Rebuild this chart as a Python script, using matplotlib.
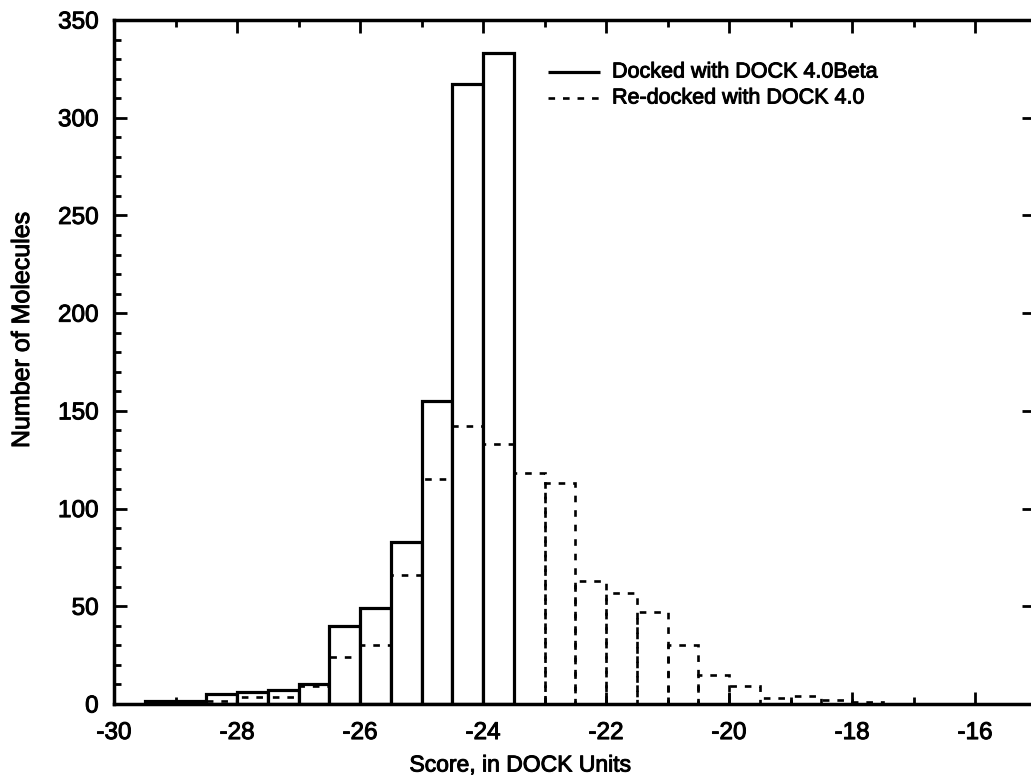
import numpy as np
import matplotlib
matplotlib.use("Agg")
import matplotlib.pyplot as plt
import matplotlib.patheffects as pe
from matplotlib.ticker import MultipleLocator

plt.rcParams['font.family'] = ['Liberation Sans', 'DejaVu Sans']
plt.rcParams['axes.unicode_minus'] = False

# bin left edges, width 0.5
beta_edges = [-29.5, -29.0, -28.5, -28.0, -27.5, -27.0, -26.5, -26.0, -25.5, -25.0, -24.5, -24.0]
beta_counts = [1.5, 1.5, 5, 6, 7, 10, 40, 49, 83, 155, 317, 333]

redock_edges = [-29.5, -29.0, -28.5, -28.0, -27.5, -27.0, -26.5, -26.0, -25.5, -25.0, -24.5, -24.0,
                -23.5, -23.0, -22.5, -22.0, -21.5, -21.0, -20.5, -20.0, -19.5, -19.0, -18.5, -18.0]
redock_counts = [0.5, 0.5, 1.5, 3.5, 3.5, 9, 24, 30, 66, 115, 142, 133,
                 118, 113, 63, 57, 47, 30, 15, 9, 3, 4, 2, 1]

bin_w = 0.5
dots = (0, (2.5, 3))
heavy = [pe.withStroke(linewidth=0.7, foreground='black')]

W, H = 1031, 776
x0, x1, ytop, ybot = 114, 1034, 20, 704
fig = plt.figure(figsize=(W / 100, H / 100), dpi=100)
ax = fig.add_axes([x0 / W, 1 - ybot / H, (x1 - x0) / W, (ybot - ytop) / H])

ax.bar(beta_edges, beta_counts, width=bin_w, align='edge', facecolor='white',
       edgecolor='black', linewidth=2.3, zorder=2)
ax.bar(redock_edges, redock_counts, width=bin_w, align='edge', fill=False,
       edgecolor='black', linewidth=1.9, linestyle=dots, zorder=3)

# legend, drawn by hand in axes coords
def px(x, y):
    return (x - x0) / (x1 - x0), (ybot - y) / (ybot - ytop)

for ypix, style, lw, txt in [(72, '-', 2.3, 'Docked with DOCK 4.0Beta'),
                             (98, dots, 1.9, 'Re-docked with DOCK 4.0')]:
    (a, b), (c, _) = px(548, ypix), px(600, ypix)
    ax.plot([a, c], [b, b], transform=ax.transAxes, color='black',
            linewidth=lw, linestyle=style, solid_capstyle='butt', clip_on=False)
    tx, ty = px(612, ypix)
    ax.text(tx, ty, txt, transform=ax.transAxes, fontsize=15.5, va='center', ha='left',
            path_effects=heavy)

ax.set_xlim(-30, -30 + (x1 - x0) / 61.5)
ax.set_ylim(0, 350)

ax.xaxis.set_major_locator(MultipleLocator(2))
ax.xaxis.set_minor_locator(MultipleLocator(1))
ax.yaxis.set_major_locator(MultipleLocator(50))
ax.yaxis.set_minor_locator(MultipleLocator(10))

ax.tick_params(which='both', direction='in', top=True, right=True, width=2)
ax.tick_params(which='major', length=9, labelsize=17.5)
ax.tick_params(which='minor', length=5)
ax.tick_params(axis='x', which='major', pad=13)
ax.tick_params(axis='y', which='major', pad=11)
ax.tick_params(axis='y', which='minor', right=False)

for lab in ax.get_xticklabels() + ax.get_yticklabels():
    lab.set_path_effects(heavy)

for sp in ax.spines.values():
    sp.set_linewidth(2.5)

ax.set_xlabel('Score, in DOCK Units', fontsize=16.5, va='center', path_effects=heavy)
ax.xaxis.set_label_coords(*px(520, 765))
ax.set_ylabel('Number of Molecules', fontsize=18, va='center', path_effects=heavy)
ax.yaxis.set_label_coords(*px(22, 330))

fig.savefig('out.png', dpi=100)
